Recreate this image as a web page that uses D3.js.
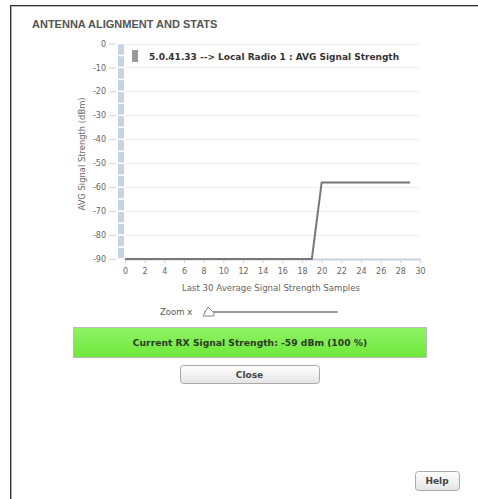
<!DOCTYPE html>
<html>
<head>
<meta charset="utf-8">
<script src="https://cdn.jsdelivr.net/npm/d3@7"></script>
<style>
  body { margin: 0; background: #fff; }
  svg { display: block; font-family: "DejaVu Sans", Verdana, sans-serif; }
</style>
</head>
<body>
<div id="chart"></div>
<script>
// data
const samples = d3.range(0, 30);
const signal = [
  -90, -90, -90, -90, -90, -90, -90, -90, -90, -90,
  -90, -90, -90, -90, -90, -90, -90, -90, -90, -90,
  -58, -58, -58, -58, -58, -58, -58, -58, -58, -58,
];
const yTicks = [0, -10, -20, -30, -40, -50, -60, -70, -80, -90];
const xTicks = d3.range(0, 31, 2);
const seriesName = '5.0.41.33 --> Local Radio 1 : AVG Signal Strength';
const currentText = 'Current RX Signal Strength: -59 dBm (100 %)';

const width = 478,
  height = 499;

const svg = d3
  .select('#chart')
  .append('svg')
  .attr('width', width)
  .attr('height', height);

const defs = svg.append('defs');
const gGreen = defs.append('linearGradient').attr('id', 'green').attr('x2', 0).attr('y2', 1);
gGreen.append('stop').attr('offset', 0).attr('stop-color', '#8ff266');
gGreen.append('stop').attr('offset', 1).attr('stop-color', '#6ee83a');
const gBtn = defs.append('linearGradient').attr('id', 'btn').attr('x2', 0).attr('y2', 1);
gBtn.append('stop').attr('offset', 0).attr('stop-color', '#ffffff');
gBtn.append('stop').attr('offset', 1).attr('stop-color', '#e4e4e4');

// dialog frame
svg.append('line').attr('x1', 10.5).attr('x2', 10.5).attr('y1', 5).attr('y2', height).attr('stroke', '#333');
svg.append('line').attr('x1', 11.5).attr('x2', 11.5).attr('y1', 6).attr('y2', height).attr('stroke', '#aaa');
svg.append('line').attr('x1', 10).attr('x2', width).attr('y1', 5.5).attr('y2', 5.5).attr('stroke', '#333');
svg.append('line').attr('x1', 11).attr('x2', width).attr('y1', 6.5).attr('y2', 6.5).attr('stroke', '#bbb');

svg
  .append('text')
  .attr('x', 32)
  .attr('y', 28)
  .attr('font-family', '"Liberation Sans", Arial, sans-serif')
  .attr('font-size', 11)
  .attr('font-weight', 'bold')
  .attr('fill', '#555')
  .text('ANTENNA ALIGNMENT AND STATS');

// plot
const x = d3.scaleLinear().domain([0, 30]).range([125, 420]);
const y = d3.scaleLinear().domain([-90, 0]).range([259, 43.5]);

svg
  .append('g')
  .selectAll('line')
  .data(yTicks.filter((d) => d > -90))
  .join('line')
  .attr('x1', x(0))
  .attr('x2', x(30))
  .attr('y1', (d) => Math.round(y(d)) + 0.5)
  .attr('y2', (d) => Math.round(y(d)) + 0.5)
  .attr('stroke', '#eeeeee');

// segmented scroll bar on the y side
svg
  .append('g')
  .selectAll('rect')
  .data(d3.range(0, -90, -5))
  .join('rect')
  .attr('x', 118)
  .attr('width', 6)
  .attr('y', (d) => y(d) + 0.8)
  .attr('height', (d) => y(d - 5) - y(d) - 1.6)
  .attr('fill', '#c6d3e2');

const yAxis = svg
  .append('g')
  .attr('transform', 'translate(116,0)')
  .call(
    d3
      .axisLeft(y)
      .tickValues(yTicks)
      .tickFormat((d) => String(d))
      .tickSize(7)
      .tickPadding(3),
  );
yAxis.select('.domain').remove();
yAxis.selectAll('line').attr('stroke', '#c6d3e2');
yAxis.selectAll('text').attr('font-size', 8).attr('fill', '#666').attr('font-family', '"DejaVu Sans", sans-serif');

const xAxis = svg
  .append('g')
  .attr('transform', `translate(0,${y(-90)})`)
  .call(d3.axisBottom(x).tickValues(xTicks).tickSize(4).tickSizeOuter(0).tickPadding(5));
xAxis.select('.domain').attr('stroke', '#c6d3e2').attr('stroke-width', 2);
xAxis.selectAll('line').attr('stroke', '#c6d3e2');
xAxis.selectAll('text').attr('font-size', 8).attr('fill', '#666').attr('font-family', '"DejaVu Sans", sans-serif');

const line = d3
  .line()
  .x((d, i) => x(samples[i]))
  .y((d) => y(d));

svg
  .append('path')
  .datum(signal)
  .attr('fill', 'none')
  .attr('stroke', '#777')
  .attr('stroke-width', 2)
  .attr('d', line);

svg
  .append('text')
  .attr('x', 271)
  .attr('y', 291)
  .attr('text-anchor', 'middle')
  .attr('font-size', 8.6)
  .attr('fill', '#666')
  .text('Last 30 Average Signal Strength Samples');

svg
  .append('text')
  .attr('transform', 'translate(85,154) rotate(-90)')
  .attr('text-anchor', 'middle')
  .attr('font-size', 8.4)
  .attr('fill', '#666')
  .text('AVG Signal Strength (dBm)');

// legend
svg.append('rect').attr('x', 132).attr('y', 50).attr('width', 6).attr('height', 12).attr('fill', '#999');
svg
  .append('text')
  .attr('x', 149)
  .attr('y', 60)
  .attr('font-size', 9)
  .attr('font-weight', 'bold')
  .attr('fill', '#333')
  .text(seriesName);

// zoom slider
svg
  .append('text')
  .attr('x', 160)
  .attr('y', 315)
  .attr('font-size', 8.5)
  .attr('fill', '#555')
  .text('Zoom x');
svg
  .append('line')
  .attr('x1', 205)
  .attr('x2', 337)
  .attr('y1', 312)
  .attr('y2', 312)
  .attr('stroke', '#999')
  .attr('stroke-width', 2)
  .attr('stroke-linecap', 'round');
svg
  .append('path')
  .attr('d', 'M203,316 L208,307 L214,313 L214,316 Z')
  .attr('fill', '#fff')
  .attr('stroke', '#888');

// current signal bar
svg
  .append('rect')
  .attr('x', 73.5)
  .attr('y', 327.5)
  .attr('width', 353)
  .attr('height', 30)
  .attr('fill', 'url(#green)')
  .attr('stroke', '#bbb');
svg
  .append('text')
  .attr('x', 250)
  .attr('y', 346)
  .attr('text-anchor', 'middle')
  .attr('font-size', 9.2)
  .attr('font-weight', 'bold')
  .attr('fill', '#2d3a26')
  .text(currentText);

// buttons
function button(bx, by, bw, bh, label) {
  svg
    .append('rect')
    .attr('x', bx + 0.5)
    .attr('y', by + 0.5)
    .attr('width', bw)
    .attr('height', bh)
    .attr('rx', 3)
    .attr('fill', 'url(#btn)')
    .attr('stroke', '#aaa');
  svg
    .append('text')
    .attr('x', bx + bw / 2)
    .attr('y', by + bh / 2 + 3.5)
    .attr('text-anchor', 'middle')
    .attr('font-size', 9)
    .attr('font-weight', 'bold')
    .attr('fill', '#444')
    .text(label);
}
button(180, 365, 139, 18, 'Close');
button(415, 471, 44, 19, 'Help');
</script>
</body>
</html>
